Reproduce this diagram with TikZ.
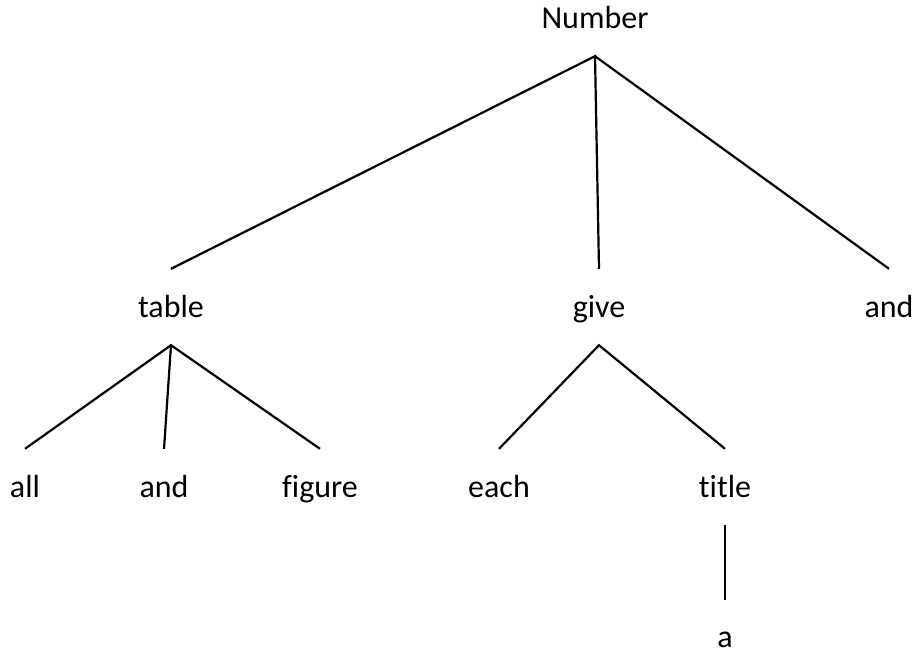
\documentclass[tikz,border=0pt]{standalone}
\usepackage{fontspec}
\setmainfont[Ligatures=NoCommon]{Carlito}
\begin{document}
\begin{tikzpicture}[x=1pt,y=-1pt,
  word/.style={font=\fontsize{32}{38}\selectfont, text height=26pt, text depth=6pt,
    inner xsep=0pt, inner ysep=22pt, anchor=base},
  branch/.style={line width=2.2pt}]
  \useasboundingbox (0,0) rectangle (917,651);
  % root
  \node[word] (number) at (595,28) {Number};
  % first level
  \node[word] (table) at (171,317) {table};
  \node[word] (give) at (599,317) {give};
  \node[word] (andA) at (889,317) {and};
  % second level
  \node[word] (all) at (25,497) {all};
  \node[word] (andB) at (164,497) {and};
  \node[word] (figure) at (320,497) {figure};
  \node[word] (each) at (499,497) {each};
  \node[word] (title) at (725,497) {title};
  % leaf under title, kept inside the page
  \node[word, inner ysep=0pt, text height=47pt, text depth=0pt] (a) at (725,647) {a};
  % branches
  \draw[branch] (table.north) -- (number.south) -- (give.north);
  \draw[branch] (number.south) -- (andA.north);
  \draw[branch] (all.north) -- (table.south) -- (figure.north);
  \draw[branch] (table.south) -- (andB.north);
  \draw[branch] (each.north) -- (give.south) -- (title.north);
  \draw[branch] (title.south) -- (a.north);
\end{tikzpicture}
\end{document}
